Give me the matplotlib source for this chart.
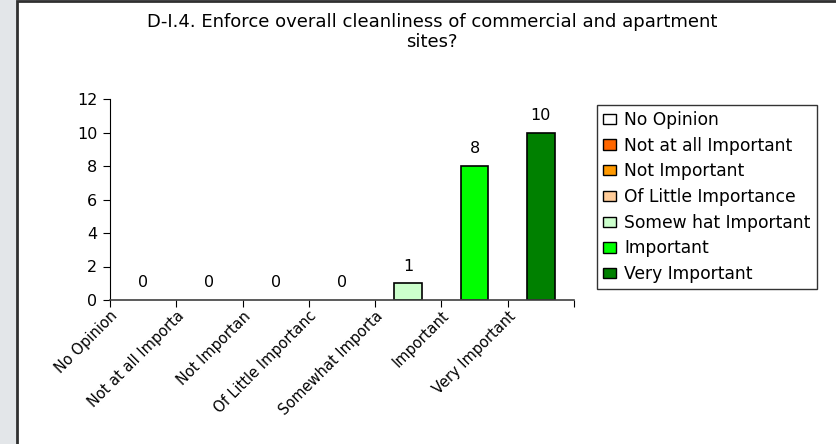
import matplotlib
matplotlib.use("Agg")
from matplotlib import pyplot as plt
from matplotlib.patches import Rectangle, Patch
from matplotlib.transforms import ScaledTranslation

plt.rcParams["font.family"] = ["DejaVu Sans"]

categories = [
    "No Opinion",
    "Not at all Important",
    "Not Important",
    "Of Little Importance",
    "Somew hat Important",
    "Important",
    "Very Important",
]
tick_labels = [
    "No Opinion",
    "Not at all Importa",
    "Not Importan",
    "Of Little Importanc",
    "Somewhat Importa",
    "Important",
    "Very Important",
]
counts = [0, 0, 0, 0, 1, 8, 10]
colors = ["#ffffff", "#ff6600", "#ff9900", "#ffcc99", "#ccffcc", "#00ff00", "#008000"]

W, H = 837, 444
fig = plt.figure(figsize=(W / 100, H / 100), dpi=100)
fig.patch.set_facecolor("#e3e6e9")

# white chart area with dark frame on left/top
fig.patches.append(Rectangle((17.5 / W, -0.05), 1.0, 1 - 1.5 / H + 0.05,
                             transform=fig.transFigure, facecolor="white",
                             edgecolor="#303030", linewidth=2, zorder=-10))

ax = fig.add_axes([110 / W, (H - 300) / H, (574 - 110) / W, (300 - 99) / H])
ax.set_facecolor("white")

x = list(range(len(categories)))
edges = ["black" if v > 0 else "none" for v in counts]
bars = ax.bar(x, counts, width=0.42, color=colors, edgecolor=edges, linewidth=1.2)

for xi, v in zip(x, counts):
    ax.annotate(str(v), (xi, v), xytext=(0, 7), textcoords="offset points",
                ha="center", va="bottom", fontsize=11.5)

ax.set_xlim(-0.5, len(categories) - 0.5)
ax.set_ylim(0, 12)
ax.set_yticks(range(0, 13, 2))
ax.tick_params(axis="y", length=5, labelsize=11.5, pad=4)

# ticks between categories, labels at centers
ax.set_xticks([i - 0.5 for i in range(len(categories) + 1)])
ax.set_xticklabels([])
ax.set_xticks(x, minor=True)
ax.set_xticklabels(tick_labels, minor=True, rotation=45, ha="right",
                   rotation_mode="anchor", fontsize=10.5)
ax.tick_params(axis="x", which="minor", length=0, pad=6)
ax.tick_params(axis="x", which="major", length=5)
offset = ScaledTranslation(-33 / 100, 0, fig.dpi_scale_trans)
for lbl in ax.get_xticklabels(minor=True):
    lbl.set_transform(lbl.get_transform() + offset)

ax.spines["top"].set_visible(False)
ax.spines["right"].set_visible(False)
ax.spines["bottom"].set_color("#404040")
ax.spines["bottom"].set_linewidth(1.2)

fig.text(432 / W, 1 - 22 / H, "D-I.4. Enforce overall cleanliness of commercial and apartment",
         ha="center", va="center", fontsize=13)
fig.text(432 / W, 1 - 42 / H, "sites?", ha="center", va="center", fontsize=13)

handles = [Patch(facecolor=c, edgecolor="black", linewidth=1) for c in colors]
leg = fig.legend(handles, categories, loc="upper left",
                 bbox_to_anchor=(597 / W, 1 - 105 / H), fontsize=12.3,
                 frameon=True, fancybox=False, edgecolor="black",
                 handlelength=0.75, handleheight=0.55, handletextpad=0.5,
                 labelspacing=0.45, borderpad=0.35, borderaxespad=0)
leg.get_frame().set_linewidth(1)

fig.savefig("out.png", dpi=100, facecolor=fig.get_facecolor())
